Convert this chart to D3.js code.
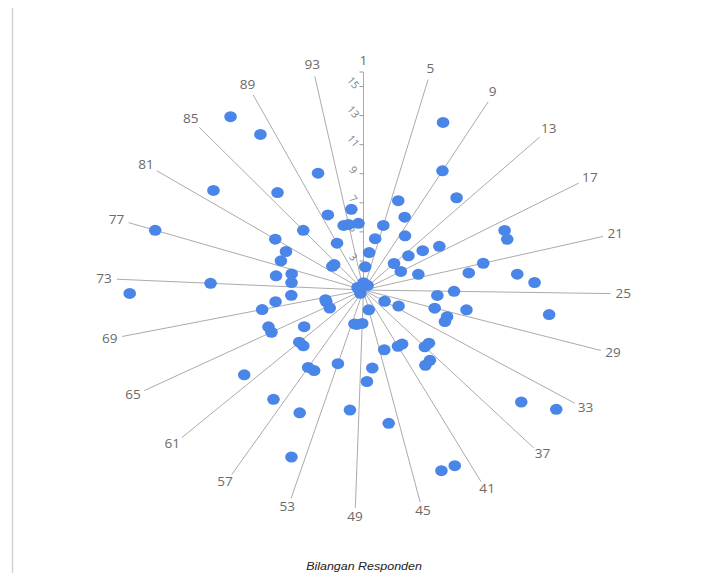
<!DOCTYPE html>
<html><head><meta charset="utf-8">
<script src="https://cdn.jsdelivr.net/npm/d3@7"></script>
<style>html,body{margin:0;padding:0;background:#fff;} svg{display:block;}</style>
</head><body><svg id="c" width="703" height="573"></svg>
<script>
const categories = [1,2,3,4,5,6,7,8,9,10,11,12,13,14,15,16,17,18,19,20,21,22,23,24,25,26,27,28,29,30,31,32,33,34,35,36,37,38,39,40,41,42,43,44,45,46,47,48,49,50,51,52,53,54,55,56,57,58,59,60,61,62,63,64,65,66,67,68,69,70,71,72,73,74,75,76,77,78,79,80,81,82,83,84,85,86,87,88,89,90,91,92,93,94,95];
const values = [
  1.5, 2.6, 3.6, 4.6, 5.6, 7.5, 13.5, 6.6, 10.5, 5.5,
  1.4, 9.5, 3.6, 4.6, 5.5, 6.5, 3.6, 10.5, 10.4, 4.5,
  8.5, 7.5, 10.4, 11.4, 6.5, 5.5, 12.4, 7.4, 5.5, 6.4,
  6.4, 3.4, 2.5, 15.3, 13.3, 6.4, 6.4, 7.3, 7.4, 5.4,
  5.4, 14.3, 14.3, 5.3, 2.4, 10.3, 6.4, 7.3, 3.3, 9.3,
  3.4, 3.4, 6.3, 13.3, 10.3, 7.3, 7.3, 10.3, 1.3, 6.3,
  6.3, 10.3, 5.4, 3.4, 7.3, 7.3, 3.4, 3.4, 7.3, 6.4,
  5.4, 15.2, 10.3, 5.4, 6.4, 5.5, 14.3, 6.4, 1.4, 6.4,
  7.4, 12.4, 3.5, 3.5, 6.5, 9.5, 15.4, 13.4, 4.6, 6.6,
  9.5, 5.6, 5.6, 6.6, 5.6
];
const spokeLabels = [1,5,9,13,17,21,25,29,33,37,41,45,49,53,57,61,65,69,73,77,81,85,89,93];
const radialTicks = [3,5,7,9,11,13,15];
const radialMax = 16;
const radialMin = 1;
const title = "Bilangan Responden";

const cx = 363.5, cy = 290, RX = 247, RY = 218, SX = RX / RY;
const svg = d3.select("#c");

const angle = d3.scaleLinear().domain([1, categories.length + 1]).range([0, 2 * Math.PI]);
const radius = d3.scaleLinear().domain([radialMin, radialMax]).range([0, 1]);
const px = (k, v) => cx + RX * radius(v) * Math.sin(angle(k));
const py = (k, v) => cy - RY * radius(v) * Math.cos(angle(k));

// left border
svg.append("line").attr("x1", 12.5).attr("x2", 12.5).attr("y1", 8).attr("y2", 573)
  .attr("stroke", "#d2d2d2").attr("stroke-width", 1.5);

// spokes
svg.append("g").selectAll("line").data(spokeLabels).join("line")
  .attr("x1", cx).attr("y1", cy)
  .attr("x2", d => px(d, radialMax)).attr("y2", d => py(d, radialMax))
  .attr("stroke", "#ababab").attr("stroke-width", 1);

// radial axis ticks along spoke 1
const axisG = svg.append("g");
axisG.selectAll("line").data(radialTicks.concat([radialMax])).join("line")
  .attr("x1", cx - 4).attr("x2", cx)
  .attr("y1", d => py(1, d)).attr("y2", d => py(1, d))
  .attr("stroke", "#9a9a9a").attr("stroke-width", 1);
axisG.selectAll("text").data(radialTicks).join("text")
  .attr("transform", d => `translate(${cx - 10},${py(1, d) - 4}) rotate(50)`)
  .attr("text-anchor", "middle").attr("dominant-baseline", "central")
  .attr("font-family", "Open Sans, sans-serif").attr("font-size", 10.5)
  .attr("fill", "#7c7c7c").text(d => d);

// dots
const pts = categories.map((k, i) => ({k, v: values[i]}));
svg.append("g").selectAll("ellipse").data(pts).join("ellipse")
  .attr("cx", d => px(d.k, d.v)).attr("cy", d => py(d.k, d.v))
  .attr("rx", 6.3).attr("ry", 5.5)
  .attr("fill", "#4a86e8");

// spoke labels
const lab = svg.append("g").selectAll("text").data(spokeLabels).join("text")
  .attr("text-anchor", "middle").attr("dominant-baseline", "central")
  .attr("font-family", "Open Sans, sans-serif").attr("font-size", 12)
  .attr("fill", "#6b6b6b").text(d => d);
lab.each(function(d) {
  const a = angle(d), s = Math.sin(a), c = Math.cos(a);
  const w = this.getComputedTextLength() * SX;
  const lx = cx + (RX + 5) * s + s * w / 2;
  const ly = cy - (RY + 8) * c - (c > 0 ? 4 * c : 0);
  d3.select(this).attr("transform", `translate(${lx},${ly}) scale(${SX},1)`);
});

// title
svg.append("text")
  .attr("transform", `translate(364,566) scale(${SX},1)`)
  .attr("text-anchor", "middle").attr("dominant-baseline", "central")
  .attr("font-family", "Liberation Sans, Arial, sans-serif").attr("font-size", 11)
  .attr("font-style", "italic").attr("fill", "#222").text(title);
</script>
</body></html>
